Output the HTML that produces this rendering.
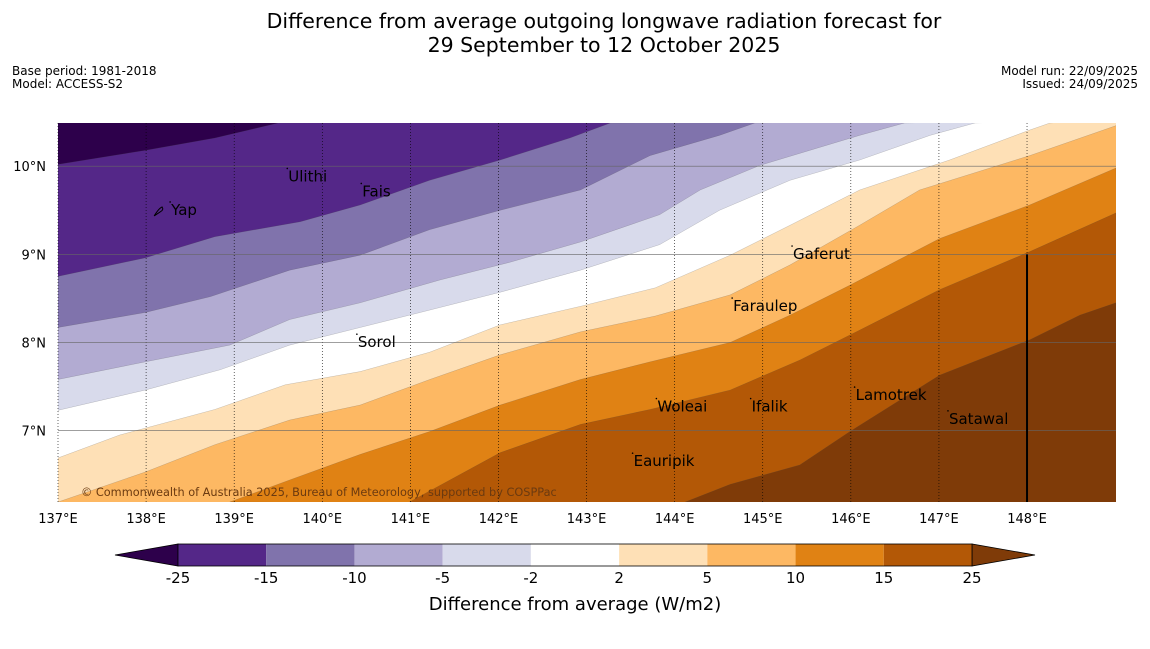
<!DOCTYPE html>
<html><head><meta charset="utf-8"><style>
body{margin:0;background:#fff;width:1150px;height:644px;overflow:hidden;font-family:"Liberation Sans","DejaVu Sans",sans-serif;}
svg text{font-family:"DejaVu Sans","Liberation Sans",sans-serif;}
</style></head><body>
<svg id="chart" width="1150" height="644">
<text x="604" y="28" font-size="20.5" text-anchor="middle">Difference from average outgoing longwave radiation forecast for</text>
<text x="604" y="52" font-size="20.5" text-anchor="middle">29 September to 12 October 2025</text>
<text x="12" y="75" font-size="12">Base period: 1981-2018</text>
<text x="12" y="88" font-size="12">Model: ACCESS-S2</text>
<text x="1138" y="75" font-size="12" text-anchor="end">Model run: 22/09/2025</text>
<text x="1138" y="88" font-size="12" text-anchor="end">Issued: 24/09/2025</text>
<defs><clipPath id="mapclip"><rect x="58" y="123" width="1058" height="379"/></clipPath></defs>
<g id="map" clip-path="url(#mapclip)"></g>
<g id="overlay"></g>
<g id="cbar"></g>
<text x="575" y="610" font-size="18" text-anchor="middle">Difference from average (W/m2)</text>
</svg>
<script>
const levels=[-25,-15,-10,-5,-2,2,5,10,15,25];
const colors=["#2d004b","#542788","#8073ac","#b2abd2","#d8daeb","#ffffff","#fee0b6","#fdb863","#e08214","#b35806","#7f3b08"];
const lonTicks=[137,138,139,140,141,142,143,144,145,146,147,148];
const latTicks=[7,8,9,10];
const bM25=[[137,10.02],[137.99,10.18],[138.78,10.32],[139.5,10.49]];
const bM15=[[137,8.75],[137.99,8.96],[138.78,9.2],[139.75,9.37],[140.43,9.56],[141.22,9.84],[142.02,10.07],[142.81,10.32],[143.27,10.49]];
const bM10=[[137,8.17],[137.99,8.34],[138.73,8.52],[139.63,8.82],[140.43,8.99],[141.22,9.28],[142.02,9.5],[142.93,9.73],[143.72,10.12],[144.51,10.35],[144.91,10.49]];
const bM5=[[137,7.58],[137.99,7.78],[138.95,7.97],[139.63,8.26],[140.43,8.45],[141.34,8.71],[142.13,8.91],[142.93,9.14],[143.83,9.45],[144.29,9.73],[144.97,10.01],[146.1,10.35],[146.61,10.49]];
const bM2=[[137,7.23],[137.99,7.46],[138.84,7.69],[139.63,7.97],[140.31,8.14],[141.11,8.34],[142.02,8.57],[142.93,8.82],[143.83,9.11],[144.51,9.5],[145.31,9.84],[146.1,10.07],[146.9,10.35],[147.41,10.49]];
const bP2=[[137,6.69],[137.7,6.95],[138.78,7.24],[139.58,7.52],[140.43,7.67],[141.22,7.89],[142.02,8.2],[142.93,8.41],[143.78,8.62],[144.63,8.99],[145.31,9.33],[146.1,9.73],[147.12,10.07],[148.03,10.41],[148.26,10.49]];
const bP5=[[137,6.19],[137.99,6.53],[138.78,6.84],[139.63,7.12],[140.43,7.29],[141.22,7.58],[142.02,7.86],[142.93,8.12],[143.78,8.3],[144.63,8.54],[145.31,8.88],[146.1,9.33],[146.78,9.73],[148.03,10.12],[149.01,10.46]];
const bP10=[[138.95,6.19],[139.63,6.44],[140.43,6.73],[141.22,6.99],[142.02,7.29],[142.93,7.58],[143.72,7.78],[144.63,8.0],[145.31,8.31],[145.99,8.65],[147.01,9.18],[148.03,9.56],[149.01,9.98]];
const bP15=[[140.99,6.19],[142.02,6.75],[142.93,7.07],[143.72,7.24],[144.63,7.46],[145.42,7.8],[146.1,8.14],[147.01,8.6],[148.03,9.03],[149.01,9.47]];
const bP25=[[144.12,6.19],[144.63,6.39],[145.42,6.61],[145.99,6.99],[147.01,7.63],[148.03,8.03],[148.6,8.31],[149.01,8.45]];
const boundaries=[bM25,bM15,bM10,bM5,bM2,bP2,bP5,bP10,bP15,bP25];
const places=["Ulithi","Fais","Yap","Gaferut","Faraulep","Sorol","Woleai","Ifalik","Lamotrek","Satawal","Eauripik"];
const placeLon=[139.58,140.42,138.25,145.31,144.63,140.37,143.77,144.84,146.02,147.08,143.5];
const placeLat=[9.94,9.77,9.56,9.06,8.47,8.06,7.33,7.33,7.46,7.19,6.71];
const LON0=137,LON1=149.01,LAT0=6.19,LAT1=10.49,X0=58,X1=1116,Y0=502,Y1=123;
const xS=l=>X0+(l-LON0)/(LON1-LON0)*(X1-X0);
const yS=l=>Y0-(l-LAT0)/(LAT1-LAT0)*(Y0-Y1);
const NS="http://www.w3.org/2000/svg";
function mk(t,a,p){const e=document.createElementNS(NS,t);for(const k in a)e.setAttribute(k,a[k]);p.appendChild(e);return e;}
const map=document.getElementById('map'),ov=document.getElementById('overlay'),cb=document.getElementById('cbar');
const bg=mk('rect',{x:X0,y:Y1,width:X1-X0,height:Y0-Y1,fill:colors[0]},map);


boundaries.forEach((b,i)=>{
  const pts=b.map(p=>[xS(p[0]),yS(p[1])]);
  const last=b[b.length-1],first=b[0];
  if(last[1]>10.4)pts.push([xS(LON1)+5,yS(LAT1)-5]);
  pts.push([xS(LON1)+5,yS(LAT0)+5]);
  if(first[0]<137.05)pts.push([xS(LON0)-5,yS(LAT0)+5]);
  const pg=mk('polygon',{points:pts.map(p=>p.join(',')).join(' '),fill:colors[i+1],stroke:'#444','stroke-width':0.3,'stroke-opacity':0.5},map);
  
  
});
lonTicks.forEach(l=>{
  const ln=mk('line',{x1:xS(l),x2:xS(l),y1:Y1,y2:Y0,stroke:'#000','stroke-width':0.6,'stroke-dasharray':'1,2'},ov);
  
  
  const t=mk('text',{x:xS(l),y:523,'font-size':13,'text-anchor':'middle'},ov);t.textContent=l+'°E';
  
  
});
latTicks.forEach(l=>{
  const ln=mk('line',{x1:X0,x2:X1,y1:yS(l),y2:yS(l),stroke:'#666','stroke-width':0.6},ov);
  
  
  const t=mk('text',{x:46,y:yS(l)+5,'font-size':13,'text-anchor':'end'},ov);t.textContent=l+'°N';
  
  
});
const vl=mk('line',{x1:xS(148),x2:xS(148),y1:yS(9),y2:Y0,stroke:'#000','stroke-width':2},ov);


places.forEach((p,i)=>{
  const x=xS(placeLon[i]),y=yS(placeLat[i]);
  const d=mk('circle',{cx:x+2,cy:y-3,r:0.8,fill:'#000'},ov);
  
  
  const t=mk('text',{x:x+3,y:y+10,'font-size':15},ov);t.textContent=p;
  
  
});
const yap=mk('path',{d:`M${xS(138.25)-14},${yS(9.56)+11} q5,-8 8,-9 q2,3 -2,5 q-3,2 -6,4`,fill:'none',stroke:'#000','stroke-width':1},ov);


const cr=mk('text',{x:81,y:496,'font-size':11.3,fill:'#6b3a10'},ov);cr.textContent='© Commonwealth of Australia 2025, Bureau of Meteorology, supported by COSPPac';


const CB0=178,CB1=972,CT=544,CBt=566,w=(CB1-CB0)/(levels.length-1);
const lt=mk('polygon',{points:`115,555 ${CB0},${CT} ${CB0},${CBt}`,fill:colors[0],stroke:'#000','stroke-width':0.8},cb);


const rt=mk('polygon',{points:`1035,555 ${CB1},${CT} ${CB1},${CBt}`,fill:colors[10],stroke:'#000','stroke-width':0.8},cb);


for(let i=0;i<levels.length-1;i++){
  const r=mk('rect',{x:CB0+i*w,y:CT,width:w,height:CBt-CT,fill:colors[i+1]},cb);
  
  
}
mk('rect',{x:CB0,y:CT,width:CB1-CB0,height:CBt-CT,fill:'none',stroke:'#000','stroke-width':0.8},cb);
levels.forEach((l,i)=>{
  const t=mk('text',{x:CB0+i*w,y:583,'font-size':15,'text-anchor':'middle'},cb);t.textContent=l;
  
  
});
</script>
</body></html>
